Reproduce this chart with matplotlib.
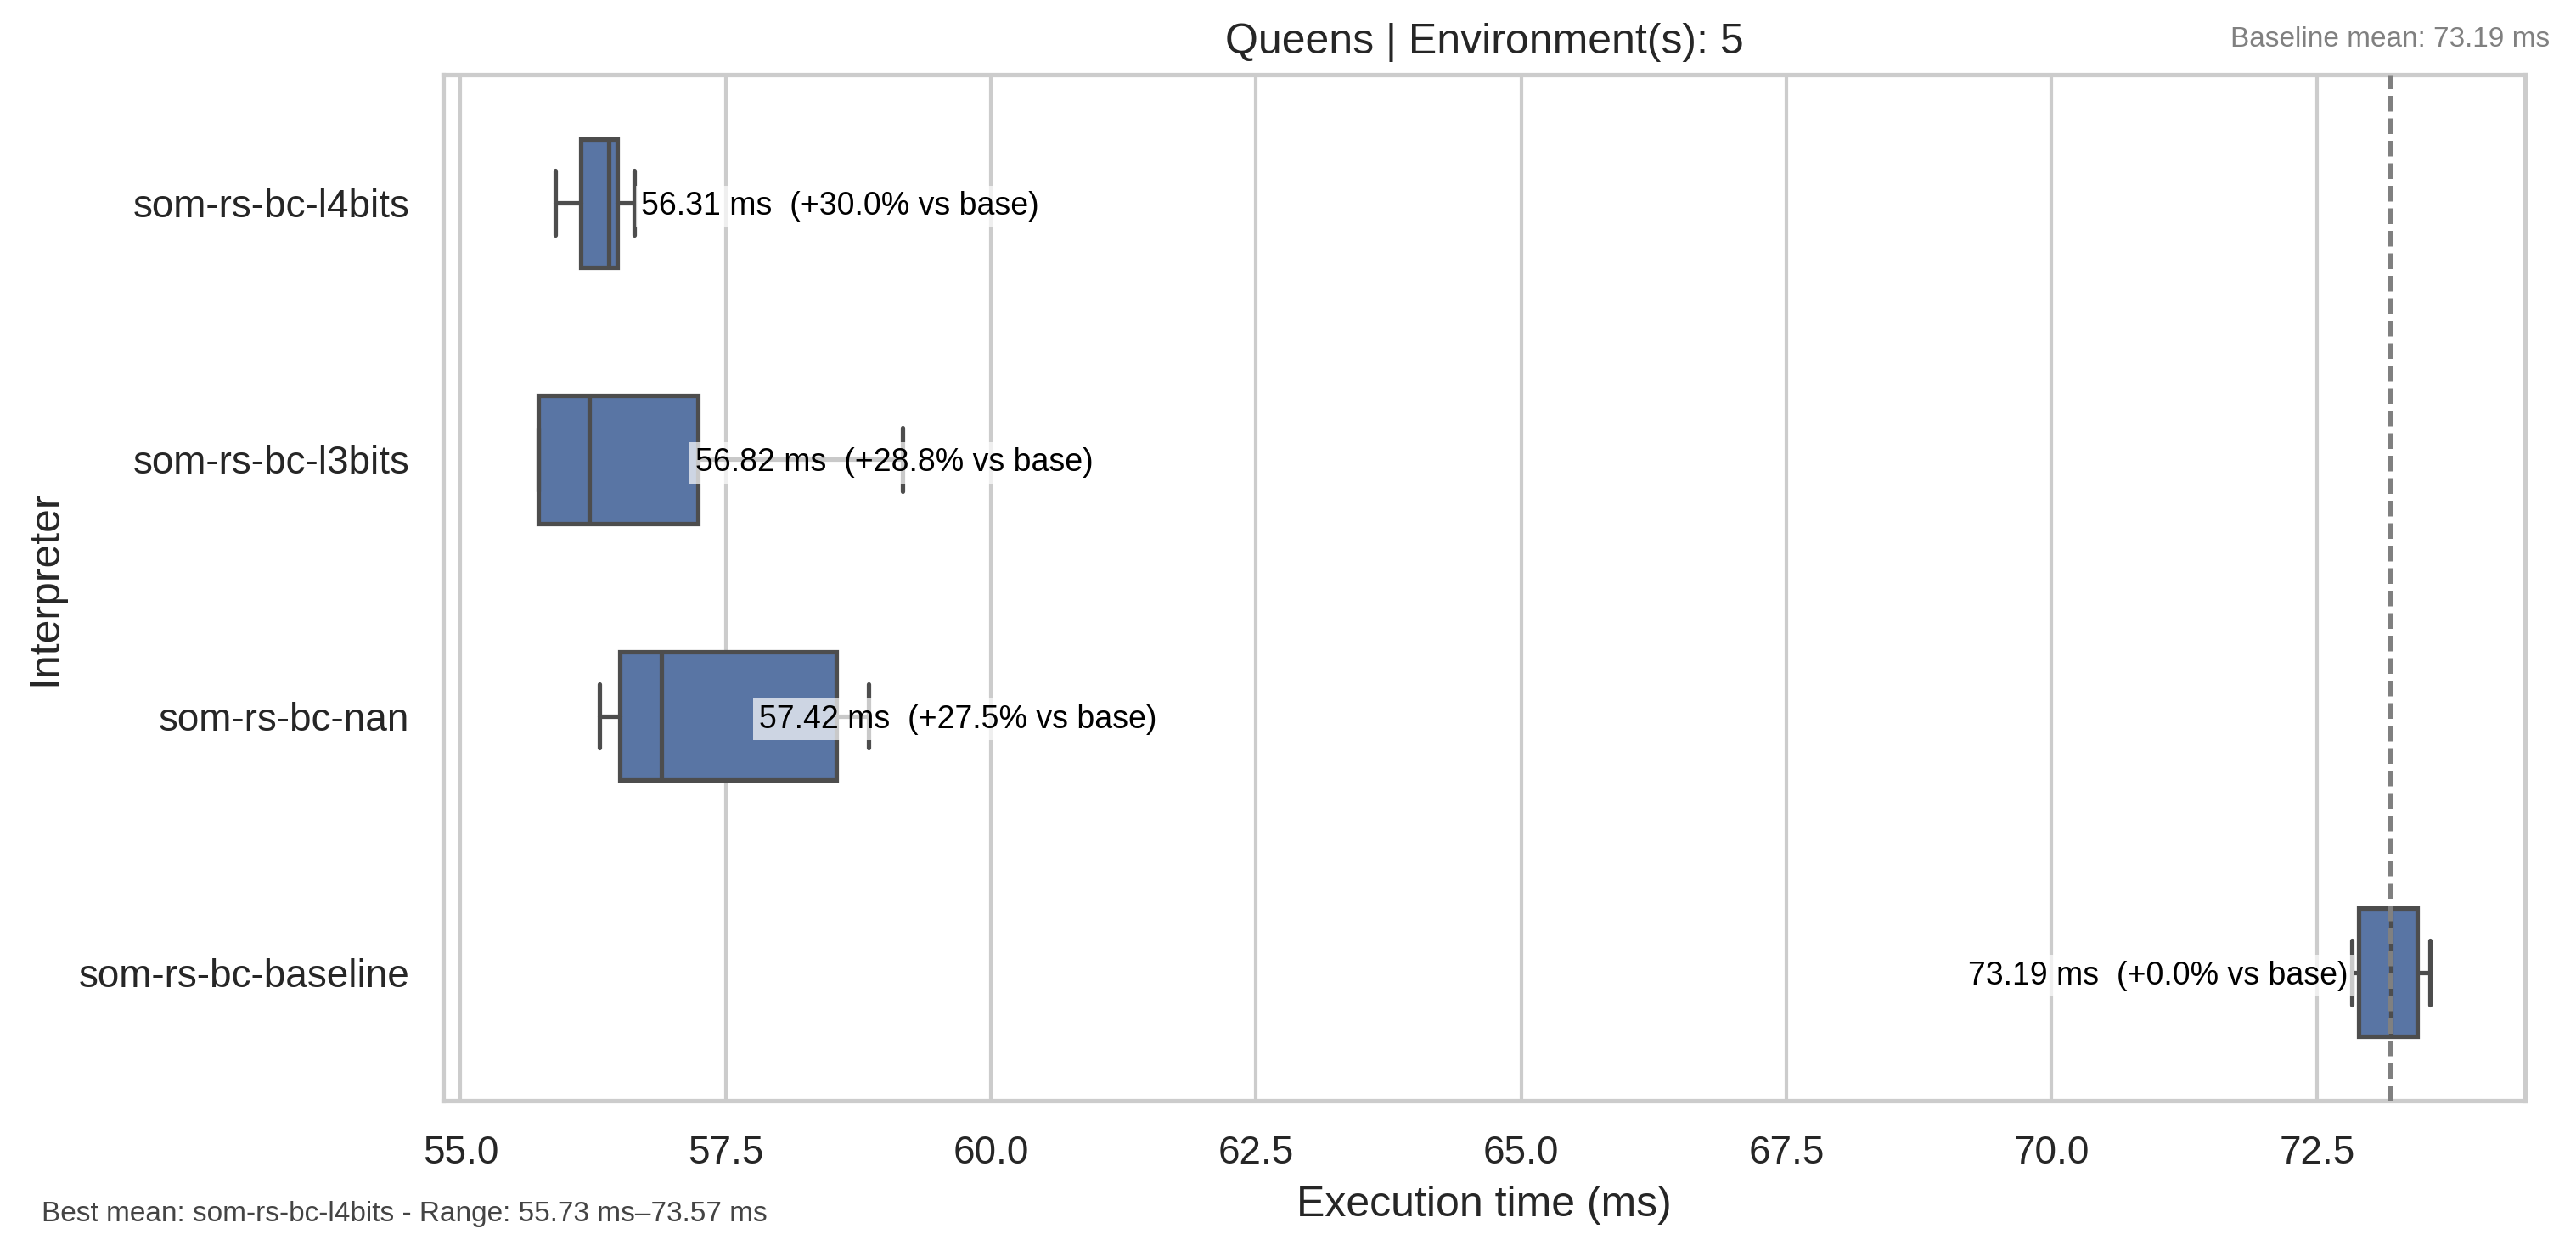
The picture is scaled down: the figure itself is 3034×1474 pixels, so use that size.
import matplotlib
matplotlib.use("Agg")
import matplotlib.pyplot as plt
import seaborn as sns

# per-interpreter timing summary (ms)
interpreters = ["som-rs-bc-l4bits", "som-rs-bc-l3bits", "som-rs-bc-nan", "som-rs-bc-baseline"]
means = [56.31, 56.82, 57.42, 73.19]
medians = [56.40, 56.21, 56.89, 73.20]
q1 = [56.13, 55.73, 56.50, 72.89]
q3 = [56.48, 57.24, 58.54, 73.45]
whislo = [55.89, 55.73, 56.31, 72.83]
whishi = [56.64, 59.17, 58.85, 73.57]
benchmark = "Queens"
nenvs = 5
basenm = "som-rs-bc-baseline"

sns.set_theme(style="whitegrid")
plt.rcParams['font.family'] = ['Liberation Sans', 'DejaVu Sans']

boxcol = "#5975a4"
linecol = "#4d4d4d"

stats = []
for idx, nm in enumerate(interpreters):
  stats.append({"label": nm, "med": medians[idx], "q1": q1[idx], "q3": q3[idx],
                "whislo": whislo[idx], "whishi": whishi[idx], "fliers": []})

fig, ax = plt.subplots(figsize=(3034/300, 1474/300), dpi=300)
fig.subplots_adjust(left=0.1721, right=0.9802, bottom=0.1201, top=0.9403)

ax.bxp(stats, positions=range(len(interpreters)), widths=0.5, orientation="horizontal",
       patch_artist=True, showfliers=False,
       boxprops=dict(facecolor=boxcol, edgecolor=linecol, linewidth=1.25),
       whiskerprops=dict(color=linecol, linewidth=1.25),
       capprops=dict(color=linecol, linewidth=1.25),
       medianprops=dict(color=linecol, linewidth=1.25))

ax.set_yticks(range(len(interpreters)), interpreters)
ax.set_ylim(len(interpreters) - 0.5, -0.5)
ax.yaxis.grid(False)

basemean = means[interpreters.index(basenm)]
ax.axvline(basemean, color="gray", linestyle="--", linewidth=1.2, zorder=4)

lo = min(whislo)
hi = max(whishi)
xmin, xmax = ax.get_xlim()
off = 0.02 * (xmax - xmin)
for idx, m in enumerate(means):
  pct = (basemean / m - 1.0) * 100.0
  txt = f"{m:.2f} ms  ({pct:+.1f}% vs base)"
  bb = dict(facecolor="white", alpha=0.7, edgecolor="none", pad=1.5)
  if m > xmin + 0.85 * (xmax - xmin):
    ax.text(m - off, idx, txt, ha="right", va="center_baseline", fontsize=9, color="black", bbox=bb, zorder=5)
  else:
    ax.text(m + off, idx, txt, ha="left", va="center_baseline", fontsize=9, color="black", bbox=bb, zorder=5)

ax.set_title(f"{benchmark} | Environment(s): {nenvs}")
ax.set_xlabel("Execution time (ms)")
ax.set_ylabel("Interpreter")

fig.text(0.990, 0.963, f"Baseline mean: {basemean:.2f} ms", ha="right", va="baseline", fontsize=8, color="gray")
bestnm = interpreters[means.index(min(means))]
fig.text(0.016, 0.024, f"Best mean: {bestnm} - Range: {lo:.2f} ms\u2013{hi:.2f} ms",
         ha="left", va="baseline", fontsize=8, color="#444444")

fig.savefig("out.png", dpi=300)
